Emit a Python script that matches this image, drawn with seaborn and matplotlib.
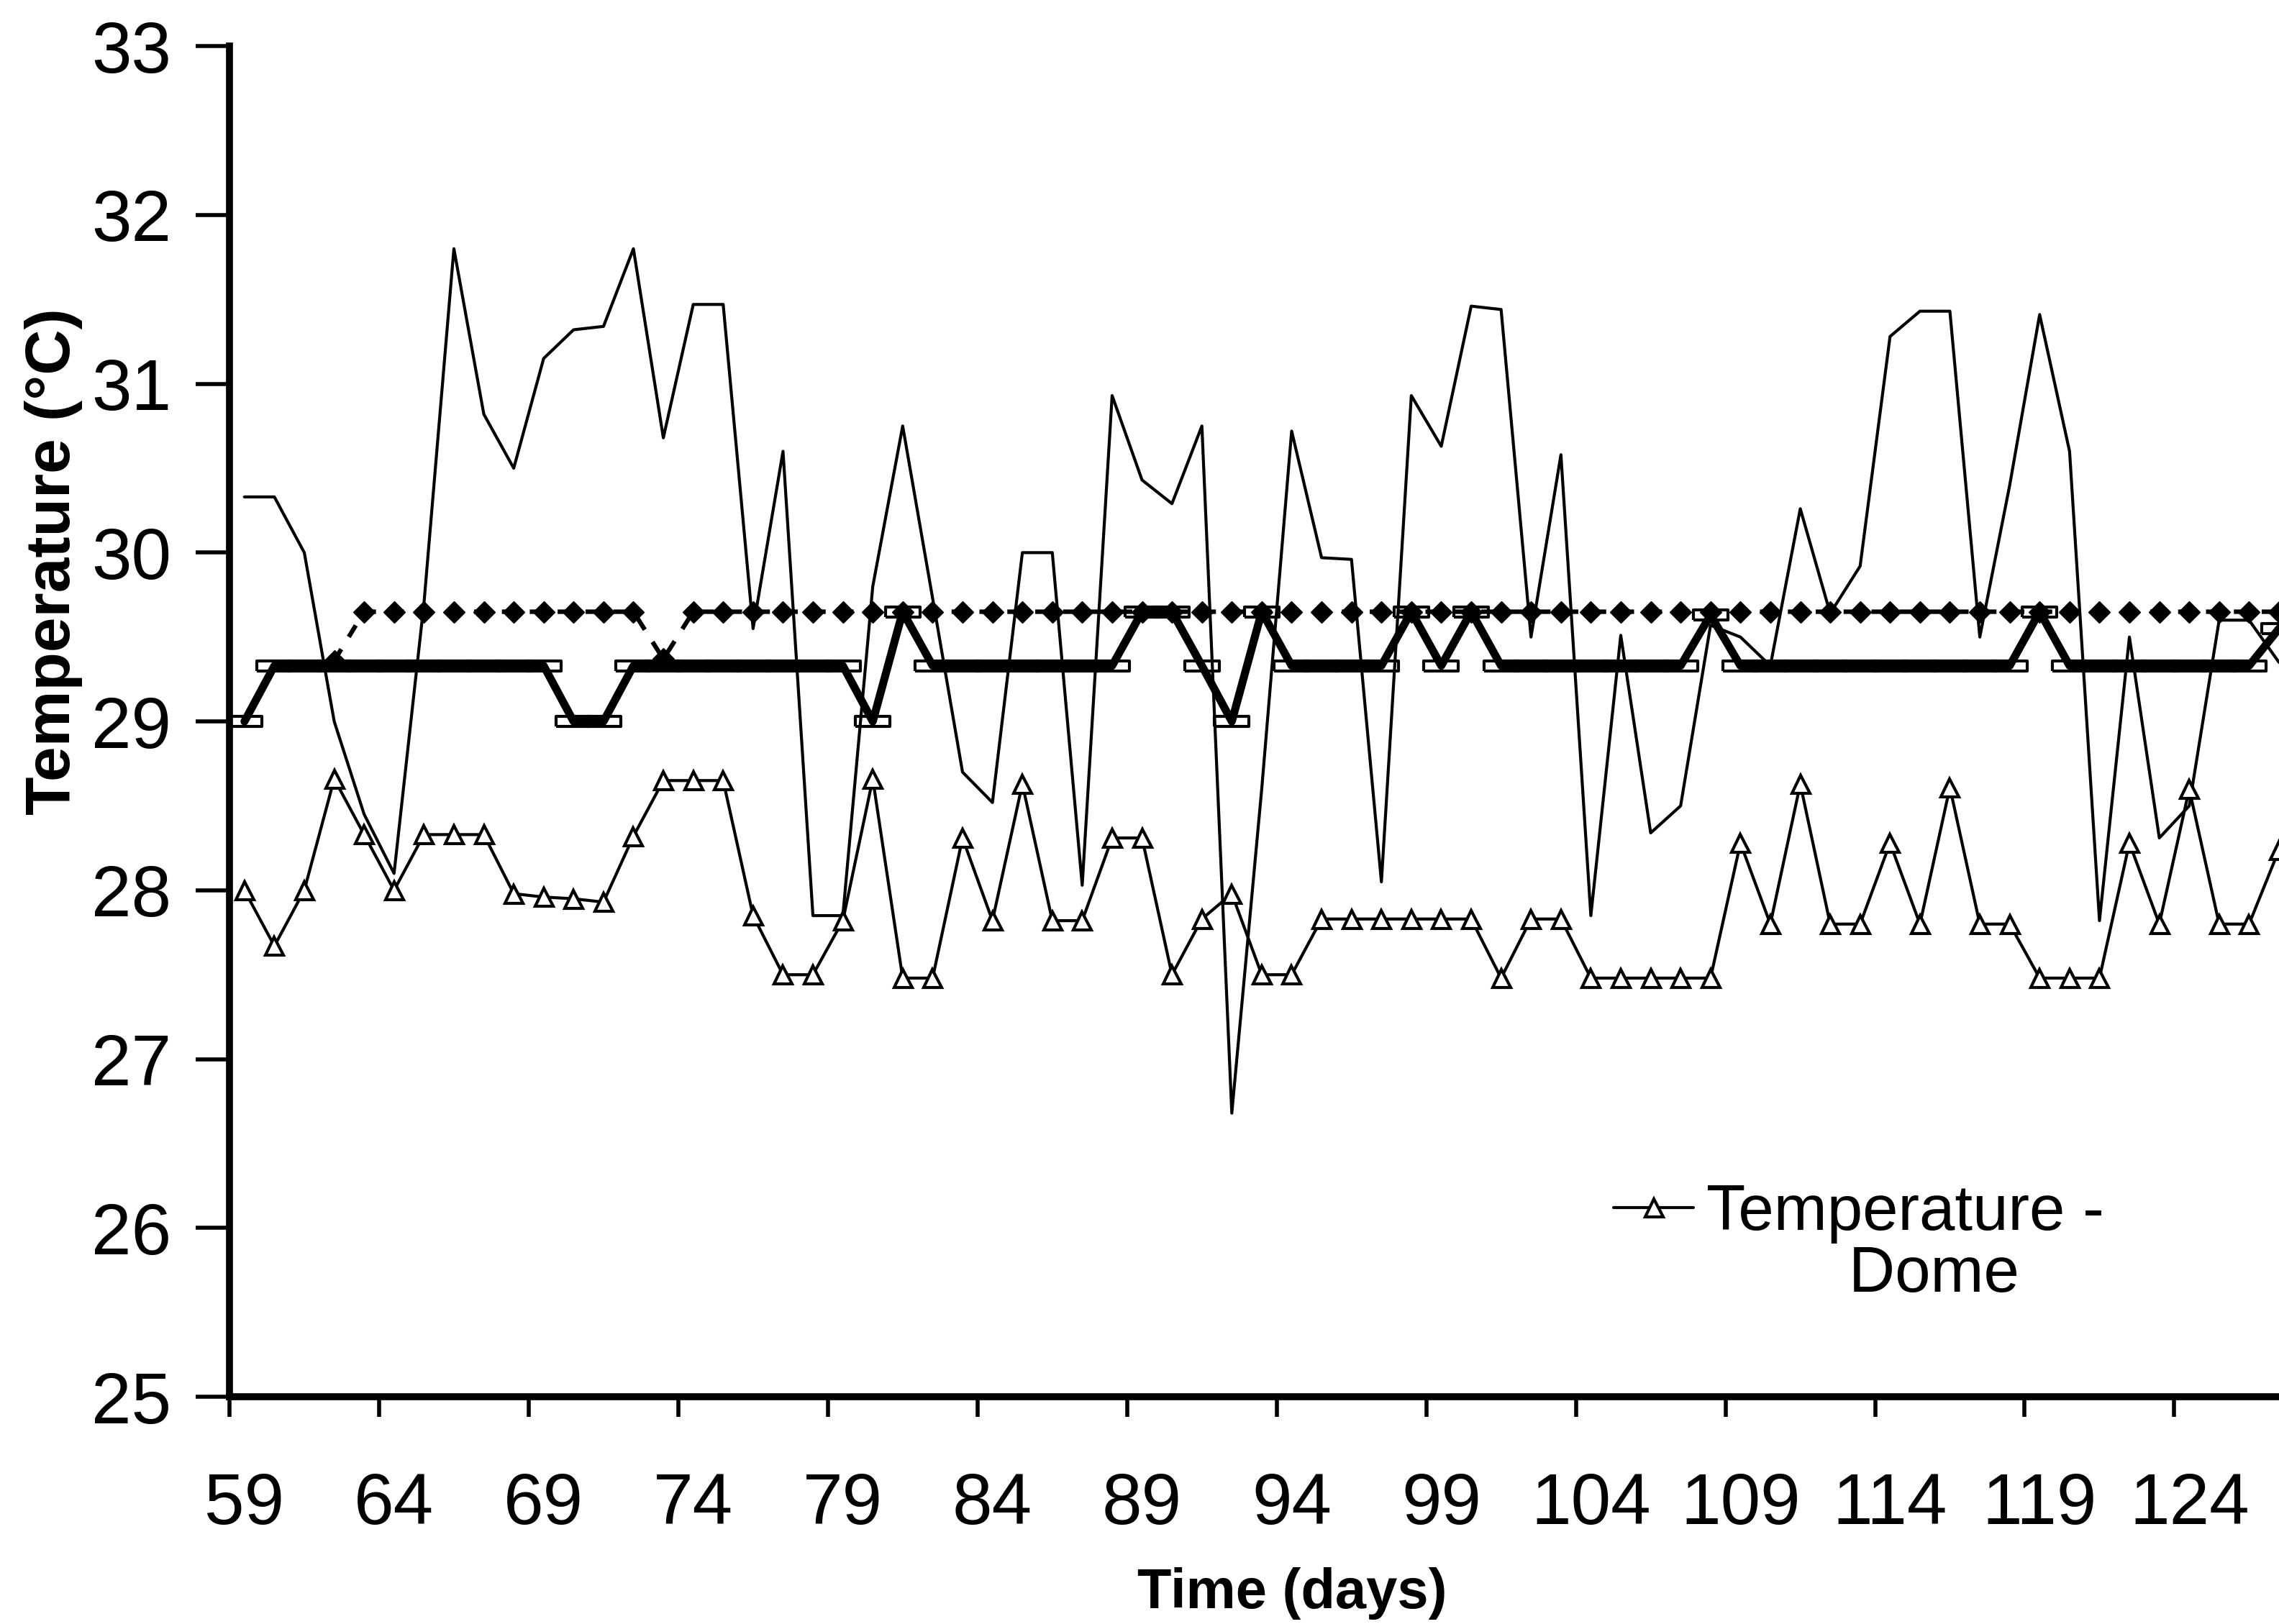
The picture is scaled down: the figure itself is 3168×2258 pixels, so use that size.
import matplotlib
matplotlib.use('Agg')
import matplotlib.pyplot as plt
from matplotlib.lines import Line2D
import seaborn as sns
import pandas as pd

# one reading per day, days 59..127
days = list(range(59, 128))

# triangles - "Temperature - Dome"
temp_dome = [
    28.00, 27.67, 28.00, 28.66, 28.33, 28.00, 28.33, 28.33, 28.33, 27.98,  # 59-68
    27.96, 27.95, 27.93, 28.32, 28.65, 28.65, 28.65, 27.85, 27.50, 27.50,  # 69-78
    27.82, 28.66, 27.48, 27.48, 28.31, 27.82, 28.63, 27.82, 27.82, 28.31,  # 79-88
    28.31, 27.50, 27.83, 27.98, 27.50, 27.50, 27.83, 27.83, 27.83, 27.83,  # 89-98
    27.83, 27.83, 27.48, 27.83, 27.83, 27.48, 27.48, 27.48, 27.48, 27.48,  # 99-108
    28.28, 27.80, 28.63, 27.80, 27.80, 28.28, 27.80, 28.61, 27.80, 27.80,  # 109-118
    27.48, 27.48, 27.48, 28.28, 27.80, 28.60, 27.80, 27.80, 28.24,         # 119-127
]

# thin solid line (no markers)
temp_outside = [
    30.33, 30.33, 30.00, 29.00, 28.45, 28.10, 29.70, 31.80, 30.82, 30.50,  # 59-68
    31.15, 31.32, 31.34, 31.80, 30.68, 31.47, 31.47, 29.55, 30.60, 27.85,  # 69-78
    27.85, 29.80, 30.75, 29.73, 28.70, 28.52, 30.00, 30.00, 28.03, 30.93,  # 79-88
    30.43, 30.29, 30.75, 26.68, 28.60, 30.72, 29.97, 29.96, 28.05, 30.93,  # 89-98
    30.63, 31.46, 31.44, 29.50, 30.58, 27.85, 29.51, 28.34, 28.50, 29.57,  # 99-108
    29.50, 29.33, 30.26, 29.64, 29.92, 31.28, 31.43, 31.43, 29.50, 30.40,  # 109-118
    31.41, 30.60, 27.82, 29.50, 28.31, 28.50, 29.60, 29.60, 29.35,         # 119-127
]

# thick solid line with dash markers
temp_thick = [
    29.00, 29.33, 29.33, 29.33, 29.33, 29.33, 29.33, 29.33, 29.33, 29.33,  # 59-68
    29.33, 29.00, 29.00, 29.33, 29.33, 29.33, 29.33, 29.33, 29.33, 29.33,  # 69-78
    29.33, 29.00, 29.65, 29.33, 29.33, 29.33, 29.33, 29.33, 29.33, 29.33,  # 79-88
    29.65, 29.65, 29.33, 29.00, 29.65, 29.33, 29.33, 29.33, 29.33, 29.65,  # 89-98
    29.33, 29.65, 29.33, 29.33, 29.33, 29.33, 29.33, 29.33, 29.33, 29.63,  # 99-108
    29.33, 29.33, 29.33, 29.33, 29.33, 29.33, 29.33, 29.33, 29.33, 29.33,  # 109-118
    29.65, 29.33, 29.33, 29.33, 29.33, 29.33, 29.33, 29.33, 29.55,         # 119-127
]

# dashed line with diamonds, starts on day 62
dashed_days = list(range(62, 128))
temp_dashed = [
    29.36, 29.65, 29.65, 29.65, 29.65, 29.65, 29.65, 29.65, 29.65, 29.65,  # 62-71
    29.65, 29.37, 29.65, 29.65, 29.65, 29.65, 29.65, 29.65, 29.65, 29.65,  # 72-81
    29.65, 29.65, 29.65, 29.65, 29.65, 29.65, 29.65, 29.65, 29.65, 29.65,  # 82-91
    29.65, 29.65, 29.65, 29.65, 29.65, 29.65, 29.65, 29.65, 29.65, 29.65,  # 92-101
    29.65, 29.65, 29.65, 29.65, 29.65, 29.65, 29.65, 29.65, 29.65, 29.65,  # 102-111
    29.65, 29.65, 29.65, 29.65, 29.65, 29.65, 29.65, 29.65, 29.65, 29.65,  # 112-121
    29.65, 29.65, 29.65, 29.65, 29.65, 29.65,                              # 122-127
]

tick_days = [59, 64, 69, 74, 79, 84, 89, 94, 99, 104, 109, 114, 119, 124]
y_ticks = [25, 26, 27, 28, 29, 30, 31, 32, 33]

df = pd.DataFrame({'day': days, 'dome': temp_dome,
                   'outside': temp_outside, 'thick': temp_thick})
df_dash = pd.DataFrame({'day': dashed_days, 'temp': temp_dashed})

sns.set_theme(style='ticks')
plt.rcParams['font.family'] = ['Liberation Sans', 'DejaVu Sans']
plt.rcParams['text.color'] = 'black'
plt.rcParams['axes.labelcolor'] = 'black'

fig = plt.figure(figsize=(31.68, 22.58), dpi=100)
ax = fig.add_axes([0.1007, 0.1399, 0.8993, 0.8317])

# thin line
sns.lineplot(data=df, x='day', y='outside', ax=ax, color='black',
             linewidth=3, estimator=None, zorder=3)

# thick line: markers under the line so only the ends look hollow
dash_box = [(-1, -0.3), (1, -0.3), (1, 0.3), (-1, 0.3), (-1, -0.3)]
sns.lineplot(data=df, x='day', y='thick', ax=ax, color='black', linestyle='',
             marker=dash_box, markersize=34, markerfacecolor='white',
             markeredgecolor='black', markeredgewidth=3, estimator=None, zorder=2)
sns.lineplot(data=df, x='day', y='thick', ax=ax, color='black',
             linewidth=8, estimator=None, zorder=4)

# dashed line with diamonds
sns.lineplot(data=df_dash, x='day', y='temp', ax=ax, color='black',
             linewidth=4.5, linestyle=(0, (3, 3.2)), marker='D', markersize=15,
             markerfacecolor='black', markeredgecolor='black',
             markeredgewidth=1, estimator=None, zorder=5)

# dome
sns.lineplot(data=df, x='day', y='dome', ax=ax, color='black', linewidth=3,
             marker='^', markersize=18, markerfacecolor='white',
             markeredgecolor='black', markeredgewidth=3, estimator=None, zorder=6)

ax.set_xlim(58.5, 127.0)
ax.set_ylim(25, 33)
ax.set_xlabel('')
ax.set_ylabel('')

# tick marks sit between days, labels on the days
ax.set_xticks([d - 0.5 for d in tick_days])
ax.set_xticks(tick_days, minor=True)
ax.set_xticklabels([str(d) for d in tick_days], minor=True)
ax.tick_params(axis='x', which='major', length=20, width=4, color='black',
               labelbottom=False, direction='out')
ax.tick_params(axis='x', which='minor', length=0, pad=75, labelsize=72,
               labelcolor='black')
ax.set_yticks(y_ticks)
ax.tick_params(axis='y', length=34, width=4, pad=24, labelsize=72,
               color='black', labelcolor='black', direction='out')

sns.despine(ax=ax)
for side in ['left', 'bottom']:
    ax.spines[side].set_linewidth(7)
    ax.spines[side].set_color('black')

fig.text(75 / 3168, 1 - 781 / 2258, 'Temperature (°C)', rotation=90,
         fontsize=63, fontweight='bold', ha='center', va='center',
         color='black')
fig.text(1796 / 3168, 1 - 2216 / 2258, 'Time (days)', fontsize=56,
         fontweight='bold', ha='center', va='center', color='black')

# legend: the label wraps onto a second, indented line
handles = [Line2D([], [], color='black', linewidth=3, marker='^', markersize=18,
                  markerfacecolor='white', markeredgecolor='black',
                  markeredgewidth=3),
           Line2D([], [], color='none')]
leg = ax.legend(handles, ['Temperature -', '        Dome'], loc='center left',
                bbox_to_anchor=(2243 / 3168, 1 - 1730 / 2258),
                bbox_transform=fig.transFigure, frameon=False, fontsize=64,
                handlelength=1.25, handletextpad=0.2, labelspacing=0.02,
                borderpad=0, borderaxespad=0)
for t in leg.get_texts():
    t.set_color('black')

fig.savefig('out.png', dpi=100, facecolor='white')
